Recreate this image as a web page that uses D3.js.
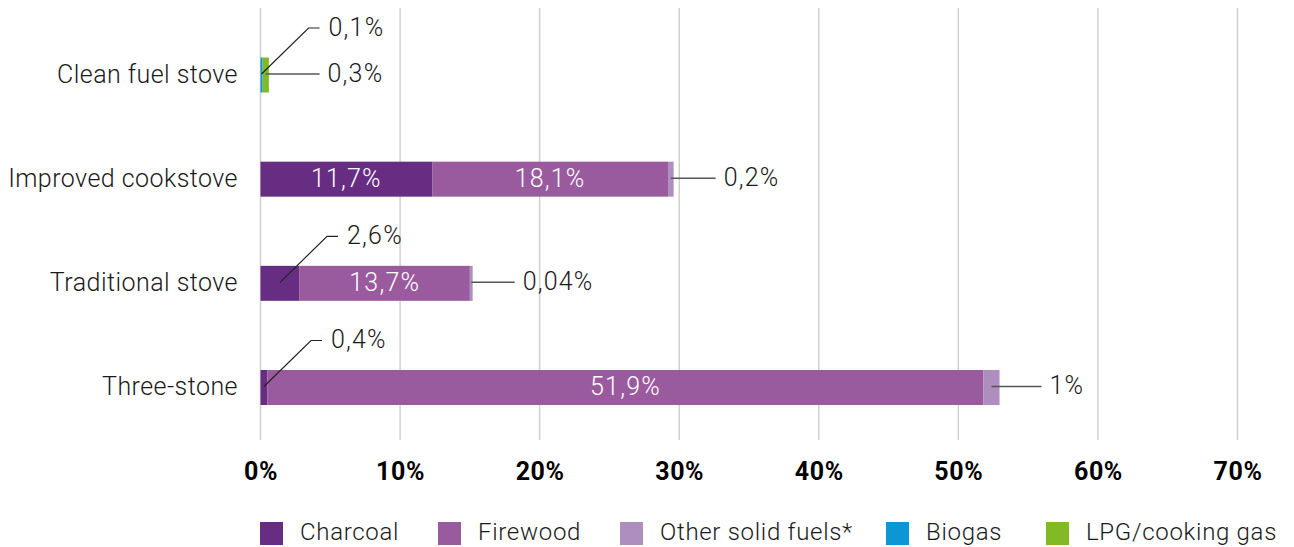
<!DOCTYPE html>
<html><head><meta charset="utf-8">
<script src="https://cdn.jsdelivr.net/npm/d3@7"></script>
<style>
html,body{margin:0;padding:0;background:#fff;}
svg{display:block;}
text{font-family:Roboto,"Noto Sans",sans-serif;}
</style></head>
<body>
<svg id="chart" width="1294" height="547"></svg>
<script>
const categories = ["Clean fuel stove","Improved cookstove","Traditional stove","Three-stone"];
const seriesNames = ["Charcoal","Firewood","Other solid fuels*","Biogas","LPG/cooking gas"];
const seriesColors = ["#672d83","#9a5b9e","#ae8ebf","#0d96d4","#82b926"];
// bar lengths (percent)
const charcoal = [0, 12.3, 2.8, 0.5];
const firewood = [0, 16.9, 12.2, 51.3];
const otherSolid = [0, 0.4, 0.2, 1.15];
const biogas = [0.15, 0, 0, 0];
const lpg = [0.45, 0, 0, 0];
// printed labels
const charcoalLabels = ["", "11,7%", "2,6%", "0,4%"];
const firewoodLabels = ["", "18,1%", "13,7%", "51,9%"];
const otherLabels = ["", "0,2%", "0,04%", "1%"];
const biogasLabels = ["0,1%", "", "", ""];
const lpgLabels = ["0,3%", "", "", ""];
// label placement: "in" inside bar, "diag" leader going up, "side" straight leader
const charcoalPlace = ["", "in", "diag", "diag"];
const firewoodPlace = ["", "in", "in", "in"];
const otherPlace = ["", "side", "side", "side"];
const biogasPlace = ["diag", "", "", ""];
const lpgPlace = ["side", "", "", ""];
const tickValues = [0,10,20,30,40,50,60,70];

const values = [charcoal, firewood, otherSolid, biogas, lpg];
const labels = [charcoalLabels, firewoodLabels, otherLabels, biogasLabels, lpgLabels];
const places = [charcoalPlace, firewoodPlace, otherPlace, biogasPlace, lpgPlace];

const svg = d3.select("#chart");
const x = d3.scaleLinear().domain([0,70]).range([260.5,1237.5]);
const y = d3.scalePoint().domain(categories).range([75,387.5]);
const barH = 35;

// gridlines
svg.append("g").selectAll("line").data(tickValues).join("line")
  .attr("x1", d=>x(d)).attr("x2", d=>x(d))
  .attr("y1", 8).attr("y2", 440)
  .attr("stroke", "#d0d0d0").attr("stroke-width", 1.5);

// axis
const axis = d3.axisBottom(x).tickValues(tickValues).tickFormat(d=>d+"%").tickSize(0).tickPadding(0);
const ax = svg.append("g").attr("transform","translate(0,462)").call(axis);
ax.select(".domain").remove();
ax.selectAll("text").attr("font-size",25).attr("font-weight",700).attr("letter-spacing",0.6)
  .attr("fill","#000").attr("font-family","Roboto, sans-serif").attr("dy","0.72em");

// category labels
svg.append("g").selectAll("text").data(categories).join("text")
  .attr("x", 238).attr("y", d=>y(d)).attr("dy","0.3em")
  .attr("text-anchor","end").attr("font-size",25).attr("font-weight",300).attr("letter-spacing",0.45)
  .attr("fill","#1a1a1a").text(d=>d);

// segments
const segs = [];
categories.forEach((c,ci)=>{
  let acc = 0;
  values.forEach((arr,si)=>{
    const v = arr[ci];
    if (v>0) segs.push({c, ci, si, x0:acc, x1:acc+v, label:labels[si][ci], place:places[si][ci]});
    acc += v;
  });
});
svg.append("g").selectAll("rect").data(segs).join("rect")
  .attr("x", d=>x(d.x0)).attr("width", d=>x(d.x1)-x(d.x0))
  .attr("y", d=>y(d.c)-barH/2).attr("height", barH)
  .attr("fill", d=>seriesColors[d.si]);

// inside labels
svg.append("g").selectAll("text").data(segs.filter(d=>d.place==="in")).join("text")
  .attr("x", d=>(x(d.x0)+x(d.x1))/2).attr("y", d=>y(d.c)).attr("dy","0.3em")
  .attr("text-anchor","middle").attr("font-size",25).attr("font-weight",300).attr("letter-spacing",1.2)
  .attr("fill","#fff").text(d=>d.label);

// leader labels
const lg = svg.append("g");
const diagEnd = {};
segs.filter(d=>d.place==="diag").forEach(d=>{
  const sx = (x(d.x0)+x(d.x1))/2, sy = y(d.c)-1;
  const mx = sx+47, my = sy-46, ex = mx+11;
  diagEnd[d.c] = ex;
  lg.append("path").attr("d",`M${sx},${sy}L${mx},${my}L${ex},${my}`)
    .attr("fill","none").attr("stroke","#222").attr("stroke-width",1.2);
  lg.append("text").attr("x", ex+9).attr("y", my).attr("dy","0.3em")
    .attr("font-size",25).attr("font-weight",300).attr("letter-spacing",1.2).attr("fill","#1a1a1a").text(d.label);
});
segs.filter(d=>d.place==="side").forEach(d=>{
  const sx = (x(d.x0)+x(d.x1))/2, sy = y(d.c)-1;
  const ex = Math.max(x(d.x1)+42, diagEnd[d.c]||0);
  lg.append("line").attr("x1",sx).attr("x2",ex).attr("y1",sy).attr("y2",sy)
    .attr("stroke","#555").attr("stroke-width",1.5);
  lg.append("text").attr("x", ex+8).attr("y", sy).attr("dy","0.3em")
    .attr("font-size",25).attr("font-weight",300).attr("letter-spacing",1.2).attr("fill","#1a1a1a").text(d.label);
});

// legend
const legendX = [260, 438, 620, 886, 1046];
const leg = svg.append("g").selectAll("g").data(seriesNames).join("g")
  .attr("transform",(d,i)=>`translate(${legendX[i]},522)`);
leg.append("rect").attr("width",23).attr("height",23).attr("fill",(d,i)=>seriesColors[i]);
leg.append("text").attr("x",40).attr("y",11).attr("dy","0.3em")
  .attr("font-size",24).attr("font-weight",300).attr("letter-spacing",0.7).attr("fill","#1a1a1a").text(d=>d);
</script>
</body></html>
